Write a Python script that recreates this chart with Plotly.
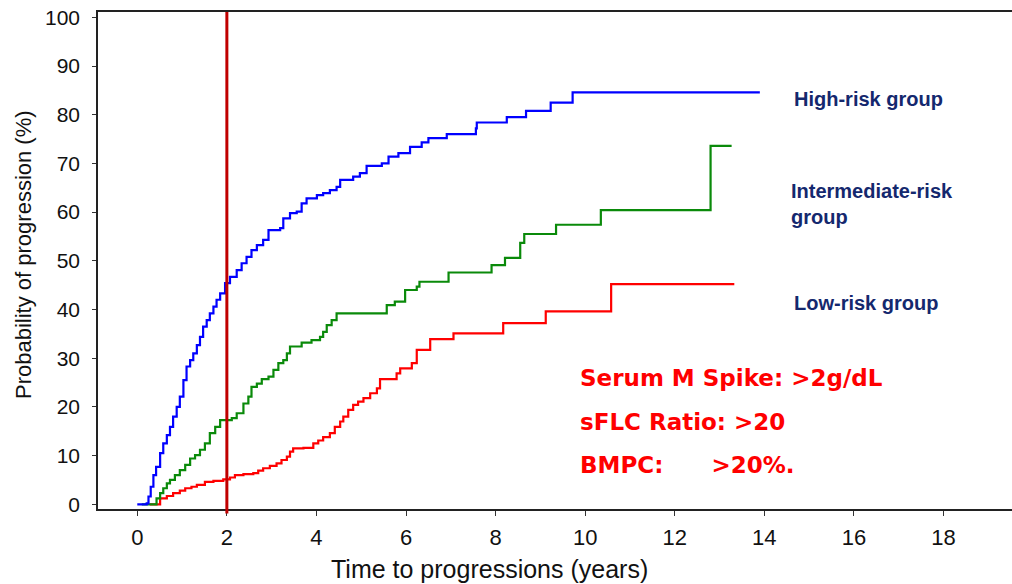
import plotly.graph_objects as go

# ---- data ----
high_t = [0, 0.21, 0.25, 0.30, 0.36, 0.42, 0.51, 0.58, 0.66, 0.73, 0.80, 0.88, 0.95, 1.03, 1.10,
          1.18, 1.25, 1.33, 1.40, 1.47, 1.55, 1.62, 1.70, 1.77, 1.85, 1.96, 2.07, 2.22, 2.33, 2.44,
          2.55, 2.67, 2.81, 2.93, 3.19, 3.26, 3.41, 3.56, 3.67, 3.78, 4.01, 4.15, 4.30, 4.45, 4.53,
          4.82, 4.97, 5.12, 5.46, 5.61, 5.83, 6.09, 6.35, 6.50, 6.91, 7.56, 7.58, 8.25, 8.68, 9.23,
          9.72, 13.9]
high_p = [0, 0.2, 1.6, 3.6, 6.0, 7.7, 10.5, 12.5, 14.2, 15.9, 18.0, 20.0, 22.1, 25.5, 28.3,
          29.6, 31.0, 32.7, 34.4, 36.5, 37.8, 39.2, 40.6, 42.0, 43.3, 45.4, 46.7, 48.1, 49.5, 50.8,
          52.2, 53.2, 54.3, 56.3, 56.7, 58.7, 59.8, 60.1, 61.8, 62.8, 63.5, 63.9, 64.5, 65.2, 66.6,
          67.3, 68.0, 69.5, 70.0, 71.4, 72.1, 73.4, 74.3, 75.2, 76.0, 77.2, 78.4, 79.5, 80.8, 82.5,
          84.6, 84.6]

inter_t = [0.1, 0.28, 0.43, 0.51, 0.58, 0.66, 0.73, 0.84, 0.95, 1.07, 1.18, 1.29, 1.40, 1.51, 1.62,
           1.74, 1.85, 2.11, 2.22, 2.37, 2.48, 2.55, 2.67, 2.78, 2.93, 3.04, 3.15, 3.26, 3.34, 3.41,
           3.67, 3.89, 4.08, 4.15, 4.23, 4.34, 4.45, 5.57, 5.75, 5.98, 6.24, 6.30, 6.95, 7.91, 8.21,
           8.55, 8.64, 9.35, 10.35, 12.80, 13.27]
inter_p = [0, 0, 1.2, 2.3, 3.3, 4.3, 5.0, 6.0, 7.0, 8.1, 9.4, 10.1, 11.2, 12.5, 14.6,
           15.9, 17.3, 17.7, 18.7, 20.7, 22.1, 24.1, 24.8, 25.7, 26.2, 27.6, 29.0, 29.6, 31.0, 32.4,
           33.2, 33.7, 34.4, 35.4, 36.8, 37.8, 39.2, 40.9, 41.6, 44.0, 44.7, 45.7, 47.6, 49.1, 50.6,
           53.7, 55.5, 57.4, 60.4, 73.6, 73.6]

low_t = [0.28, 0.51, 0.66, 0.80, 0.95, 1.07, 1.21, 1.33, 1.51, 1.70, 1.92, 2.07, 2.18, 2.37, 2.59,
         2.70, 2.81, 2.96, 3.11, 3.22, 3.34, 3.41, 3.48, 3.71, 3.93, 4.04, 4.15, 4.30, 4.41, 4.53,
         4.60, 4.71, 4.82, 4.93, 5.05, 5.20, 5.35, 5.42, 5.79, 5.87, 6.13, 6.24, 6.54, 7.06, 8.17,
         9.12, 10.58, 13.33]
low_p = [0, 1.2, 1.7, 2.3, 2.8, 3.3, 3.6, 4.0, 4.6, 4.8, 5.1, 5.5, 6.0, 6.2, 6.4,
         6.9, 7.4, 7.9, 8.4, 9.1, 9.8, 10.8, 11.5, 11.6, 12.5, 13.1, 13.8, 14.6, 15.9, 17.0,
         18.0, 19.4, 20.4, 21.1, 21.8, 22.8, 23.8, 25.7, 26.9, 27.9, 29.0, 31.7, 33.9, 35.1, 37.2,
         39.6, 45.2, 45.2]

x_ticks = [0, 2, 4, 6, 8, 10, 12, 14, 16, 18]
y_ticks = [0, 10, 20, 30, 40, 50, 60, 70, 80, 90, 100]
marker_year = 2

group_labels = ["High-risk group", "Intermediate-risk<br>group", "Low-risk group"]
criteria = ["Serum M Spike: >2g/dL", "sFLC Ratio: >20",
            "BMPC:\u00a0\u00a0\u00a0\u00a0\u00a0\u00a0>20%."]

FONT = "Liberation Sans, Arial, sans-serif"
NAVY = "#14286e"

L, R, T, B = 98, 0, 12, 75
W, H = 1012, 584
pw, ph = W - L - R, H - T - B


def px_to_paper(xp, yp):
    return (xp - L) / pw, (H - B - yp) / ph


fig = go.Figure()
fig.add_trace(go.Scatter(x=low_t, y=low_p, mode="lines", line=dict(color="#ff0000", width=2.2, shape="hv"),
                         name="Low-risk group", showlegend=False))
fig.add_trace(go.Scatter(x=inter_t, y=inter_p, mode="lines", line=dict(color="#0a8a0a", width=2.2, shape="hv"),
                         name="Intermediate-risk group", showlegend=False))
fig.add_trace(go.Scatter(x=high_t, y=high_p, mode="lines", line=dict(color="#0000ff", width=2.2, shape="hv"),
                         name="High-risk group", showlegend=False))

fig.add_shape(type="line", x0=marker_year, x1=marker_year, xref="x", yref="paper", y0=-0.009, y1=1,
              line=dict(color="#c00000", width=3), layer="above")

# group labels
for txt, xv, yv in zip(group_labels, [14.62, 14.55, 14.62], [83.2, 61.6, 41.3]):
    fig.add_annotation(x=xv, y=yv, xref="x", yref="y", text=txt, showarrow=False,
                       xanchor="left", yanchor="middle", align="left",
                       font=dict(family=FONT, size=20, color=NAVY, weight="bold"))

for txt, yv in zip(criteria, [25.9, 17.0, 8.1]):
    fig.add_annotation(x=9.85, y=yv, xref="x", yref="y", text=txt, showarrow=False,
                       xanchor="left", yanchor="middle", align="left",
                       font=dict(family="DejaVu Sans, sans-serif", size=23, color="#ff0000", weight="bold"))

# axis titles
ax, ay = px_to_paper(489, 569)
fig.add_annotation(x=ax, y=ay, xref="paper", yref="paper", text="Time to progressions (years)",
                   showarrow=False, xanchor="center", yanchor="middle",
                   font=dict(family=FONT, size=25, color="#111"))
bx, by = px_to_paper(23, 255)
fig.add_annotation(x=bx, y=by, xref="paper", yref="paper", text="Probability of progression (%)",
                   showarrow=False, textangle=-90, xanchor="center", yanchor="middle",
                   font=dict(family=FONT, size=22, color="#111"))

fig.update_layout(
    width=W, height=H,
    margin=dict(l=L, r=R, t=T, b=B),
    plot_bgcolor="white", paper_bgcolor="white",
    font=dict(family=FONT, size=21, color="#111"),
    showlegend=False,
)
fig.update_xaxes(range=[-0.877, 19.53], tickvals=x_ticks, ticks="outside", ticklen=5, tickwidth=1.2,
                 tickcolor="#333", showline=True, linecolor="#222", linewidth=1.5, mirror=True,
                 showgrid=False, zeroline=False, ticklabelstandoff=3,
                 tickfont=dict(family=FONT, size=22, color="#111"))
fig.update_yaxes(range=[-0.965, 101.09], tickvals=y_ticks, ticks="outside", ticklen=4, tickwidth=1.2,
                 tickcolor="#333", showline=True, linecolor="#222", linewidth=1.5,
                 showgrid=False, zeroline=False, ticklabelstandoff=8,
                 tickfont=dict(family=FONT, size=21, color="#111"))

fig.write_html("out.html")
